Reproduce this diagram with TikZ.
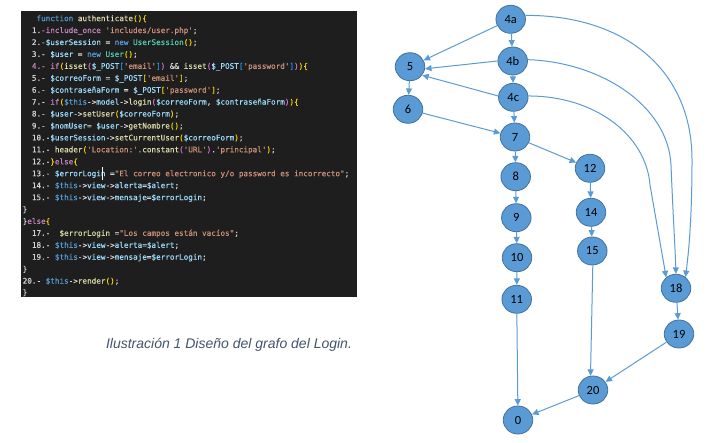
\documentclass[tikz,border=0pt]{standalone}
\usepackage{fontspec}
\setmonofont{DejaVu Sans Mono}[FakeBold=0.35]
\newfontfamily\nodefont{Carlito}
\newfontfamily\capfont{Liberation Sans}
\usetikzlibrary{shapes.geometric,arrows.meta}
\definecolor{cbg}{HTML}{1E1E1E}
\definecolor{ckw}{HTML}{569CD6}
\definecolor{cfn}{HTML}{DCDCAA}
\definecolor{cvar}{HTML}{9CDCFE}
\definecolor{cvarb}{HTML}{D2DCA2}
\definecolor{cctl}{HTML}{C586C0}
\definecolor{cstr}{HTML}{CE9178}
\definecolor{ccls}{HTML}{4EC9B0}
\definecolor{cdef}{HTML}{D4D4D4}
\definecolor{cbra}{HTML}{FFD700}
\definecolor{cbrb}{HTML}{DA70D6}
\definecolor{cbrc}{HTML}{179FFF}
\definecolor{nodefill}{HTML}{5B9BD5}
\definecolor{nodeline}{HTML}{41719C}
\definecolor{edgecol}{HTML}{5B9BD5}
\definecolor{capcol}{HTML}{44546A}
\newcommand{\cKw}[1]{\textcolor{ckw}{#1}}
\newcommand{\cFn}[1]{\textcolor{cfn}{#1}}
\newcommand{\cVar}[1]{\textcolor{cvar}{#1}}
\newcommand{\cVarB}[1]{\textcolor{cvarb}{#1}}
\newcommand{\cCtl}[1]{\textcolor{cctl}{#1}}
\newcommand{\cStr}[1]{\textcolor{cstr}{#1}}
\newcommand{\cCls}[1]{\textcolor{ccls}{#1}}
\newcommand{\cBrA}[1]{\textcolor{cbra}{#1}}
\newcommand{\cBrB}[1]{\textcolor{cbrb}{#1}}
\newcommand{\cBrC}[1]{\textcolor{cbrc}{#1}}
\begin{document}
\begin{tikzpicture}[x=1pt,y=-1pt,
  codeline/.style={anchor=base west, inner sep=0pt, text=cdef,
    font=\ttfamily\fontsize{7.64}{9}\selectfont},
  gnode/.style={ellipse, minimum width=29.5pt, minimum height=28pt, inner sep=0pt,
    fill=nodefill, draw=nodeline, line width=0.8pt,
    font=\nodefont\fontsize{12.5}{14}\selectfont},
  edge/.style={draw=edgecol, line width=1pt, -{Triangle[length=6.5pt,width=6pt]}}]
\useasboundingbox (0,0) rectangle (727,443);
\fill[white] (0,0) rectangle (727,443);
% code panel
\node[fill=cbg, minimum width=336pt, minimum height=286pt, anchor=north west, inner sep=0pt] (panel) at (21,11) {};
\node[codeline] (l0) at (36.3,21.1) {\cKw{function} \cFn{authenticate}\cBrA{()\{}};
\node[codeline] (l1) at (31.7,33.0) {1.-\cCtl{include\_once} \cStr{'includes/user.php'};};
\node[codeline] (l2) at (31.7,44.96) {2.-\cVar{\$userSession} = \cKw{new} \cCls{UserSession}\cBrA{()};};
\node[codeline] (l3) at (31.7,56.9) {3.- \cVar{\$user} = \cKw{new} \cCls{User}\cBrA{()};};
\node[codeline] (l4) at (31.7,68.8) {\cCtl{4.-} \cCtl{if}\cBrA{(}\cFn{isset}\cBrB{(}\cVar{\$\_POST}\cBrC{[}\cStr{'email'}\cBrC{]}\cBrB{)} \&\& \cFn{isset}\cBrB{(}\cVar{\$\_POST}\cBrC{[}\cStr{'password'}\cBrC{]}\cBrB{)}\cBrA{)\{}};
\node[codeline] (l5) at (31.7,80.75) {5.- \cVar{\$correoForm} = \cVar{\$\_POST}\cBrA{[}\cStr{'email'}\cBrA{]};};
\node[codeline] (l6) at (31.7,92.7) {6.- \cVar{\$contraseñaForm} = \cVar{\$\_POST}\cBrA{[}\cStr{'password'}\cBrA{]};};
\node[codeline] (l7) at (31.7,104.6) {7.- \cCtl{if}\cBrA{(}\cKw{\$this}->\cVar{model}->\cFn{login}\cBrB{(}\cVar{\$correoForm}, \cVar{\$contraseñaForm}\cBrB{)}\cBrA{)\{}};
\node[codeline] (l8) at (31.7,116.5) {8.- \cVar{\$user}->\cFn{setUser}\cBrA{(}\cVar{\$correoForm}\cBrA{)};};
\node[codeline] (l9) at (31.7,128.5) {9.- \cVar{\$nomUser}= \cVar{\$user}->\cFn{getNombre}\cBrA{()};};
\node[codeline] (l10) at (31.7,140.4) {10.-\cVar{\$userSession}->\cFn{setCurrentUser}\cBrA{(}\cVar{\$correoForm}\cBrA{)};};
\node[codeline] (l11) at (31.7,152.3) {11.- \cFn{header}\cBrA{(}\cStr{'Location:'}.\cFn{constant}\cBrB{(}\cStr{'URL'}\cBrB{)}.\cStr{'principal'}\cBrA{)};};
\node[codeline] (l12) at (31.7,164.3) {12.-\cBrA{\}}\cCtl{else}\cBrA{\{}};
\node[codeline] (l13) at (31.7,176.2) {13.- \cVar{\$errorLogin} =\cStr{"El correo electronico y/o password es incorrecto"};};
\node[codeline] (l14) at (31.7,188.1) {14.- \cKw{\$this}->\cVar{view}->\cVar{alerta}=\cVar{\$alert};};
\node[codeline] (l15) at (31.7,200.1) {15.- \cKw{\$this}->\cVar{view}->\cVar{mensaje}=\cVar{\$errorLogin};};
\node[codeline] (l16) at (22.5,212.0) {\}};
\node[codeline] (l17) at (22.5,223.9) {\}\cCtl{else}\cBrA{\{}};
\node[codeline] (l18) at (31.7,235.8) {17.-\ \ \cVarB{\$errorLogin} =\cStr{"Los campos están vacíos"};};
\node[codeline] (l19) at (31.7,247.8) {18.- \cKw{\$this}->\cVar{view}->\cVar{alerta}=\cVar{\$alert};};
\node[codeline] (l20) at (31.7,259.7) {19.- \cKw{\$this}->\cVar{view}->\cVar{mensaje}=\cVar{\$errorLogin};};
\node[codeline] (l21) at (22.5,271.6) {\}};
\node[codeline] (l22) at (22.5,283.6) {20.- \cKw{\$this}->\cFn{render}\cBrA{()};};
\node[codeline] (l23) at (22.5,295.0) {\}};
% text cursor
\draw[white, line width=0.6pt] (102,167) -- (102,180);
% caption
\node[anchor=base, inner sep=0pt, text=capcol, font=\capfont\itshape\fontsize{14}{16}\selectfont] (cap) at (229,348.3) {Ilustración 1 Diseño del grafo del Login.};
% graph nodes
\node[gnode] (n4a) at (510.7,19.3) {4a};
\node[gnode] (n4b) at (512.7,61) {4b};
\node[gnode] (n4c) at (513.3,97.3) {4c};
\node[gnode] (n5) at (410,66.7) {5};
\node[gnode] (n6) at (408,109.3) {6};
\node[gnode] (n7) at (515,137) {7};
\node[gnode] (n8) at (515.7,176.7) {8};
\node[gnode] (n9) at (516.3,217.7) {9};
\node[gnode] (n10) at (517,257.7) {10};
\node[gnode] (n11) at (516.7,299.3) {11};
\node[gnode] (n12) at (590,168.3) {12};
\node[gnode] (n14) at (591,212.3) {14};
\node[gnode] (n15) at (592.3,251) {15};
\node[gnode] (n18) at (676,288.3) {18};
\node[gnode] (n19) at (679,334) {19};
\node[gnode] (n20) at (593,390) {20};
\node[gnode] (n0) at (518,420) {0};
% edges
\draw[edge] (n4a) -- (n5);
\draw[edge] (n4a) -- (n4b);
\draw[edge] (n4b.180) -- (n5.-8);
\draw[edge] (n4b) -- (n4c);
\draw[edge] (n4c.175) -- (n5.-35);
\draw[edge] (n4c) -- (n7);
\draw[edge] (n5) -- (n6);
\draw[edge] (n6) -- (n7);
\draw[edge] (n7) -- (n8);
\draw[edge] (n7) -- (n12);
\draw[edge] (n8) -- (n9);
\draw[edge] (n9) -- (n10);
\draw[edge] (n10) -- (n11);
\draw[edge] (n11) -- (n0);
\draw[edge] (n12) -- (n14);
\draw[edge] (n14) -- (n15);
\draw[edge] (n15.-88) -- (n20.100);
\draw[edge] (n18) -- (n19);
\draw[edge] (n19) -- (n20);
\draw[edge] (n20) -- (n0);
\draw[edge] (n4a.15) .. controls (625,15) and (692,70) .. (692,160) .. controls (692,215) and (689,250) .. (n18.50);
\draw[edge] (n4b.5) .. controls (600,62) and (668,105) .. (671,165) .. controls (673,215) and (675,245) .. (n18.90);
\draw[edge] (n4c.5) .. controls (595,96) and (646,135) .. (650,185) -- (n18.132);
\end{tikzpicture}
\end{document}
